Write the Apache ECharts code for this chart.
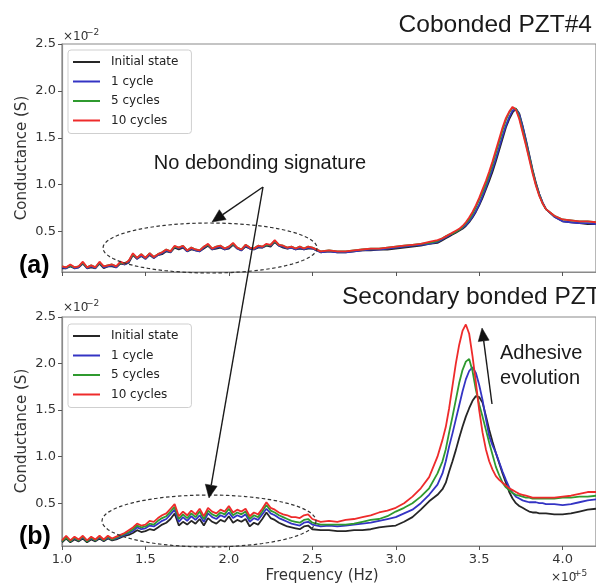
<!DOCTYPE html>
<html>
<head>
<meta charset="utf-8">
<script src="https://cdn.jsdelivr.net/npm/echarts@6/dist/echarts.min.js"></script>
<style>
  html, body { margin: 0; padding: 0; background: #fff; }
  #chart { width: 596px; height: 583px; }
</style>
</head>
<body>
<div id="chart"></div>
<script>
// Frequency samples, in units of 1e5 Hz
const freq = [
  1.000, 1.025, 1.050, 1.075, 1.100, 1.125, 1.150, 1.175, 1.200, 1.225,
  1.250, 1.275, 1.300, 1.325, 1.350, 1.375, 1.400, 1.425, 1.450, 1.475,
  1.500, 1.525, 1.550, 1.575, 1.600, 1.625, 1.650, 1.675, 1.700, 1.725,
  1.750, 1.775, 1.800, 1.825, 1.850, 1.875, 1.900, 1.925, 1.950, 1.975,
  2.000, 2.025, 2.050, 2.075, 2.100, 2.125, 2.150, 2.175, 2.200, 2.225,
  2.250, 2.275, 2.300, 2.325, 2.350, 2.375, 2.400, 2.425, 2.450, 2.475,
  2.500,
  2.55, 2.60, 2.65, 2.70, 2.75, 2.80, 2.85, 2.90, 2.95, 3.00, 3.05, 3.10, 3.15, 3.20, 3.25,
  3.28, 3.30, 3.32, 3.34, 3.36, 3.38, 3.40, 3.42, 3.44, 3.46, 3.48, 3.50, 3.52, 3.54, 3.56, 3.58,
  3.60, 3.62, 3.64, 3.66, 3.68, 3.70, 3.72, 3.74, 3.76, 3.78, 3.80, 3.82, 3.84, 3.86, 3.88, 3.90,
  3.95, 4.00, 4.05, 4.10, 4.15, 4.20
];

const seriesNames = ['Initial state', '1 cycle', '5 cycles', '10 cycles'];
const lineColors = ['#262626', '#3434c4', '#2f9a2f', '#ee2b2b'];

// (a) Cobonded PZT#4 conductance, in units of 1e-2 S
const coInitial = [
  0.11, 0.11, 0.13, 0.11, 0.12, 0.16, 0.11, 0.12, 0.11, 0.16,
  0.11, 0.13, 0.13, 0.12, 0.16, 0.15, 0.17, 0.25, 0.21, 0.24,
  0.21, 0.25, 0.22, 0.25, 0.26, 0.29, 0.28, 0.33, 0.31, 0.33,
  0.29, 0.31, 0.30, 0.29, 0.32, 0.35, 0.31, 0.32, 0.33, 0.31,
  0.32, 0.36, 0.32, 0.30, 0.34, 0.32, 0.31, 0.33, 0.33, 0.35,
  0.34, 0.39, 0.35, 0.33, 0.32, 0.33, 0.31, 0.32, 0.31, 0.32,
  0.32,
  0.28, 0.29, 0.28, 0.28, 0.29, 0.30, 0.30, 0.31, 0.31, 0.32, 0.33, 0.34, 0.35, 0.37, 0.38,
  0.41, 0.43, 0.45, 0.47, 0.49, 0.51, 0.53, 0.56, 0.60, 0.65, 0.71, 0.78, 0.86, 0.95, 1.04, 1.14,
  1.25, 1.37, 1.49, 1.61, 1.70, 1.77, 1.81, 1.76, 1.63, 1.48, 1.32, 1.16, 1.02, 0.90, 0.81, 0.74,
  0.66, 0.61, 0.60, 0.59, 0.58, 0.58
];
const co1Cycle = [
  0.12, 0.11, 0.14, 0.11, 0.12, 0.17, 0.11, 0.13, 0.11, 0.17,
  0.12, 0.13, 0.14, 0.12, 0.17, 0.15, 0.18, 0.26, 0.21, 0.25,
  0.21, 0.26, 0.22, 0.25, 0.27, 0.30, 0.28, 0.34, 0.32, 0.34,
  0.29, 0.32, 0.30, 0.29, 0.33, 0.36, 0.31, 0.33, 0.34, 0.31,
  0.33, 0.37, 0.32, 0.30, 0.35, 0.32, 0.31, 0.34, 0.33, 0.36,
  0.35, 0.40, 0.35, 0.34, 0.32, 0.33, 0.31, 0.33, 0.31, 0.33,
  0.32,
  0.28, 0.29, 0.28, 0.28, 0.29, 0.30, 0.31, 0.31, 0.32, 0.33, 0.34, 0.35, 0.36, 0.37, 0.39,
  0.42, 0.44, 0.46, 0.48, 0.50, 0.52, 0.54, 0.57, 0.61, 0.66, 0.72, 0.79, 0.88, 0.97, 1.07, 1.17,
  1.28, 1.40, 1.52, 1.63, 1.72, 1.79, 1.81, 1.75, 1.62, 1.47, 1.31, 1.15, 1.01, 0.90, 0.81, 0.74,
  0.66, 0.61, 0.60, 0.59, 0.59, 0.58
];
const co5Cycles = [
  0.13, 0.12, 0.14, 0.12, 0.13, 0.17, 0.12, 0.14, 0.12, 0.17,
  0.13, 0.14, 0.15, 0.13, 0.17, 0.16, 0.19, 0.26, 0.22, 0.26,
  0.22, 0.27, 0.23, 0.26, 0.28, 0.31, 0.29, 0.34, 0.33, 0.35,
  0.30, 0.33, 0.31, 0.30, 0.34, 0.36, 0.32, 0.34, 0.35, 0.32,
  0.34, 0.37, 0.33, 0.31, 0.36, 0.33, 0.32, 0.35, 0.34, 0.36,
  0.36, 0.40, 0.36, 0.35, 0.33, 0.34, 0.32, 0.34, 0.32, 0.34,
  0.33,
  0.29, 0.30, 0.29, 0.29, 0.30, 0.31, 0.32, 0.32, 0.33, 0.34, 0.35, 0.36, 0.37, 0.38, 0.40,
  0.43, 0.45, 0.47, 0.48, 0.50, 0.52, 0.55, 0.59, 0.63, 0.69, 0.76, 0.84, 0.92, 1.01, 1.11, 1.22,
  1.34, 1.46, 1.58, 1.69, 1.77, 1.82, 1.81, 1.72, 1.58, 1.44, 1.29, 1.14, 1.00, 0.89, 0.80, 0.74,
  0.67, 0.63, 0.62, 0.61, 0.61, 0.60
];
const co10Cycles = [
  0.13, 0.12, 0.15, 0.12, 0.13, 0.18, 0.12, 0.14, 0.12, 0.18,
  0.13, 0.14, 0.15, 0.13, 0.18, 0.16, 0.19, 0.27, 0.22, 0.26,
  0.22, 0.27, 0.23, 0.26, 0.28, 0.31, 0.29, 0.35, 0.33, 0.35,
  0.30, 0.33, 0.31, 0.30, 0.34, 0.37, 0.32, 0.34, 0.35, 0.32,
  0.34, 0.38, 0.33, 0.31, 0.36, 0.33, 0.32, 0.35, 0.34, 0.37,
  0.36, 0.41, 0.36, 0.35, 0.33, 0.34, 0.32, 0.34, 0.32, 0.34,
  0.33,
  0.29, 0.30, 0.29, 0.29, 0.30, 0.31, 0.32, 0.32, 0.33, 0.34, 0.35, 0.36, 0.37, 0.39, 0.41,
  0.43, 0.45, 0.47, 0.49, 0.51, 0.53, 0.56, 0.60, 0.65, 0.71, 0.78, 0.86, 0.95, 1.04, 1.14, 1.25,
  1.37, 1.49, 1.61, 1.71, 1.78, 1.83, 1.80, 1.70, 1.56, 1.42, 1.27, 1.12, 0.99, 0.88, 0.80, 0.74,
  0.67, 0.63, 0.62, 0.61, 0.61, 0.60
];

// (b) Secondary bonded PZT conductance, in units of 1e-2 S
const secInitial = [
  0.08, 0.12, 0.08, 0.11, 0.09, 0.12, 0.08, 0.11, 0.09, 0.12,
  0.09, 0.12, 0.10, 0.11, 0.13, 0.15, 0.16, 0.18, 0.21, 0.19,
  0.20, 0.22, 0.21, 0.24, 0.27, 0.29, 0.33, 0.39, 0.26, 0.30,
  0.27, 0.31, 0.28, 0.33, 0.26, 0.34, 0.30, 0.28, 0.32, 0.30,
  0.36, 0.29, 0.32, 0.30, 0.33, 0.25, 0.29, 0.27, 0.33, 0.40,
  0.34, 0.32, 0.29, 0.27, 0.25, 0.24, 0.23, 0.22, 0.25, 0.26,
  0.22,
  0.21, 0.21, 0.20, 0.20, 0.21, 0.21, 0.22, 0.24, 0.25, 0.26, 0.30, 0.35, 0.43, 0.52, 0.59,
  0.65, 0.72, 0.84, 0.95, 1.07, 1.20, 1.32, 1.43, 1.52, 1.60, 1.65, 1.64, 1.58, 1.44, 1.29, 1.16,
  1.04, 0.93, 0.82, 0.72, 0.62, 0.55, 0.50, 0.47, 0.45, 0.43, 0.41, 0.40, 0.40, 0.39, 0.39, 0.39,
  0.38, 0.38, 0.39, 0.41, 0.43, 0.44
];
const sec1Cycle = [
  0.09, 0.13, 0.09, 0.12, 0.10, 0.13, 0.09, 0.12, 0.10, 0.13,
  0.10, 0.13, 0.11, 0.12, 0.14, 0.16, 0.18, 0.20, 0.24, 0.22,
  0.23, 0.26, 0.25, 0.28, 0.31, 0.33, 0.38, 0.43, 0.30, 0.35,
  0.31, 0.36, 0.32, 0.37, 0.30, 0.39, 0.35, 0.33, 0.37, 0.35,
  0.40, 0.34, 0.37, 0.35, 0.38, 0.30, 0.34, 0.32, 0.38, 0.44,
  0.39, 0.37, 0.34, 0.32, 0.30, 0.28, 0.27, 0.26, 0.29, 0.30,
  0.27,
  0.25, 0.26, 0.25, 0.26, 0.27, 0.28, 0.29, 0.31, 0.33, 0.35, 0.39, 0.43, 0.50, 0.59, 0.70,
  0.82, 0.95, 1.11, 1.25, 1.40, 1.55, 1.70, 1.83, 1.92, 1.96, 1.90, 1.77, 1.61, 1.41, 1.22, 1.12,
  1.04, 0.94, 0.84, 0.75, 0.67, 0.61, 0.57, 0.55, 0.53, 0.52, 0.51, 0.51, 0.51, 0.50, 0.50, 0.49,
  0.49, 0.48, 0.49, 0.51, 0.53, 0.54
];
const sec5Cycles = [
  0.09, 0.13, 0.09, 0.13, 0.10, 0.14, 0.09, 0.13, 0.10, 0.14,
  0.10, 0.14, 0.11, 0.13, 0.15, 0.17, 0.19, 0.22, 0.26, 0.24,
  0.25, 0.28, 0.27, 0.31, 0.34, 0.36, 0.41, 0.46, 0.33, 0.38,
  0.34, 0.39, 0.35, 0.41, 0.33, 0.42, 0.38, 0.36, 0.40, 0.38,
  0.44, 0.37, 0.40, 0.38, 0.41, 0.33, 0.37, 0.35, 0.41, 0.48,
  0.42, 0.40, 0.37, 0.35, 0.33, 0.31, 0.30, 0.29, 0.32, 0.33,
  0.29,
  0.27, 0.27, 0.27, 0.27, 0.28, 0.30, 0.32, 0.33, 0.36, 0.41, 0.45, 0.50, 0.57, 0.66, 0.82,
  0.95, 1.08, 1.26, 1.43, 1.61, 1.79, 1.93, 2.02, 2.05, 1.92, 1.72, 1.56, 1.43, 1.29, 1.15, 1.02,
  0.89, 0.80, 0.72, 0.67, 0.64, 0.61, 0.59, 0.58, 0.57, 0.56, 0.56, 0.55, 0.55, 0.55, 0.55, 0.55,
  0.55, 0.56, 0.56, 0.57, 0.57, 0.58
];
const sec10Cycles = [
  0.10, 0.15, 0.10, 0.14, 0.11, 0.15, 0.10, 0.14, 0.11, 0.15,
  0.11, 0.15, 0.12, 0.14, 0.16, 0.18, 0.21, 0.24, 0.28, 0.26,
  0.27, 0.31, 0.30, 0.34, 0.37, 0.39, 0.44, 0.49, 0.36, 0.41,
  0.37, 0.42, 0.38, 0.44, 0.36, 0.45, 0.41, 0.39, 0.43, 0.41,
  0.47, 0.40, 0.43, 0.41, 0.44, 0.36, 0.40, 0.38, 0.44, 0.51,
  0.45, 0.43, 0.40, 0.38, 0.37, 0.35, 0.35, 0.34, 0.37, 0.38,
  0.33,
  0.30, 0.31, 0.30, 0.32, 0.33, 0.35, 0.37, 0.40, 0.42, 0.45, 0.50, 0.57, 0.66, 0.78, 1.00,
  1.18, 1.32, 1.52, 1.76, 2.00, 2.20, 2.35, 2.42, 2.32, 2.08, 1.80, 1.50, 1.26, 1.08, 0.95, 0.86,
  0.79, 0.75, 0.72, 0.69, 0.66, 0.64, 0.62, 0.60, 0.59, 0.58, 0.57, 0.56, 0.56, 0.56, 0.56, 0.56,
  0.56, 0.57, 0.58, 0.60, 0.62, 0.62
];

const xTickValues = [1.0, 1.5, 2.0, 2.5, 3.0, 3.5, 4.0];
const yTickValues = [0.5, 1.0, 1.5, 2.0, 2.5];

const panelA = [coInitial, co1Cycle, co5Cycles, co10Cycles];
const panelB = [secInitial, sec1Cycle, sec5Cycles, sec10Cycles];

const mplFont = 'DejaVu Sans';
const annFont = 'Liberation Sans';

function toPairs(values) {
  return freq.map((f, i) => [f, values[i]]);
}

function makeSeries(panel, axisIndex) {
  return panel.map((values, k) => ({
    name: seriesNames[k],
    type: 'line',
    xAxisIndex: axisIndex,
    yAxisIndex: axisIndex,
    data: toPairs(values),
    showSymbol: false,
    symbol: 'none',
    color: lineColors[k],
    lineStyle: { width: 1.8, color: lineColors[k] },
    z: 2 + k,
    silent: true
  }));
}

function xAxisCfg(gridIndex, showLabels) {
  return {
    type: 'value', gridIndex: gridIndex, min: 1.0, max: 4.2,
    splitLine: { show: false },
    axisLine: { show: true, lineStyle: { color: '#8a8a8a', width: 1.2 } },
    axisTick: { show: true, length: 4, customValues: xTickValues, lineStyle: { color: '#555' } },
    axisLabel: {
      show: showLabels, customValues: xTickValues, margin: 7,
      fontFamily: mplFont, fontSize: 13, color: '#333',
      formatter: v => v.toFixed(1)
    }
  };
}

function yAxisCfg(gridIndex, minVal) {
  return {
    type: 'value', gridIndex: gridIndex, min: minVal, max: 2.5,
    splitLine: { show: false },
    axisLine: { show: true, lineStyle: { color: '#8a8a8a', width: 1.2 } },
    axisTick: { show: true, length: 4, customValues: yTickValues, lineStyle: { color: '#555' } },
    axisLabel: {
      customValues: yTickValues, margin: 6,
      fontFamily: mplFont, fontSize: 13, color: '#333',
      formatter: v => v.toFixed(1)
    }
  };
}

function legendCfg(top) {
  return {
    orient: 'vertical', left: 68, top: top,
    data: seriesNames, icon: 'rect', itemWidth: 27, itemHeight: 2, itemGap: 5.5,
    padding: [5, 13, 6, 5],
    borderColor: '#cfcfcf', borderWidth: 1, borderRadius: 3,
    backgroundColor: 'rgba(255,255,255,0.85)',
    selectedMode: false,
    textStyle: { fontFamily: mplFont, fontSize: 12, color: '#222', lineHeight: 14, padding: [0, 0, 0, 6] }
  };
}

// Closed dashed outline around a frequency band
function ellipsePoints(cx, cy, rx, ry) {
  const pts = [];
  for (let i = 0; i < 72; i++) {
    const t = i / 72 * Math.PI * 2;
    pts.push([cx + rx * Math.cos(t), cy + ry * Math.sin(t)]);
  }
  return pts;
}

function arrow(x1, y1, x2, y2, len, half) {
  const a = Math.atan2(y2 - y1, x2 - x1);
  const bx = x2 - len * Math.cos(a), by = y2 - len * Math.sin(a);
  return [
    { type: 'line', silent: true, z: 20,
      shape: { x1: x1, y1: y1, x2: bx, y2: by },
      style: { stroke: '#1a1a1a', lineWidth: 1.4 } },
    { type: 'polygon', silent: true, z: 20,
      shape: { points: [[x2, y2],
        [bx + half * Math.sin(a), by - half * Math.cos(a)],
        [bx - half * Math.sin(a), by + half * Math.cos(a)]] },
      style: { fill: '#111', stroke: '#111', lineWidth: 0.5 } }
  ];
}

function text(str, x, y, font, opts) {
  return {
    type: 'text', silent: true, z: 20,
    style: Object.assign({ text: str, x: x, y: y, font: font, fill: '#1a1a1a',
      align: 'left', verticalAlign: 'middle' }, opts || {})
  };
}

// Vertical axis title, rotated to read bottom-to-top
function yTitle(cy) {
  return {
    type: 'text', silent: true, z: 20, x: 22, y: cy, rotation: Math.PI / 2,
    style: { text: 'Conductance (S)', font: '15px "' + mplFont + '"', fill: '#333',
      align: 'center', verticalAlign: 'middle' }
  };
}

const chart = echarts.init(document.getElementById('chart'), null, { renderer: 'canvas' });

const graphics = [
  text('Cobonded PZT#4', 592, 25, '24.5px "' + annFont + '"', { align: 'right' }),
  text('Secondary bonded PZT', 342, 297, '24.5px "' + annFont + '"'),
  text('(a)', 19, 266, 'bold 25px "' + annFont + '"', { fill: '#000' }),
  text('(b)', 19, 537, 'bold 25px "' + annFont + '"', { fill: '#000' }),
  text('×10', 63, 37, '12px "' + mplFont + '"', { fill: '#333' }),
  text('−2', 86, 33, '9px "' + mplFont + '"', { fill: '#333' }),
  text('×10', 63, 308, '12px "' + mplFont + '"', { fill: '#333' }),
  text('−2', 86, 304, '9px "' + mplFont + '"', { fill: '#333' }),
  text('×10', 551, 578, '12px "' + mplFont + '"', { fill: '#333' }),
  text('+5', 574, 574, '9px "' + mplFont + '"', { fill: '#333' }),
  text('Frequency (Hz)', 322, 576, '15px "' + mplFont + '"', { align: 'center', fill: '#333' }),
  yTitle(158),
  yTitle(431),
  text('No debonding signature', 260, 163, '20px "' + annFont + '"', { align: 'center' }),
  text('Adhesive', 500, 353, '20px "' + annFont + '"'),
  text('evolution', 500, 378, '20px "' + annFont + '"'),
  { type: 'polygon', silent: true, z: 15,
    shape: { points: ellipsePoints(210, 248, 107, 25) },
    style: { fill: 'none', stroke: '#333', lineWidth: 1.2, lineDash: [3.5, 2.5] } },
  { type: 'polygon', silent: true, z: 15,
    shape: { points: ellipsePoints(209, 521, 107, 26) },
    style: { fill: 'none', stroke: '#333', lineWidth: 1.2, lineDash: [3.5, 2.5] } }
].concat(
  arrow(263, 187, 212, 222, 13, 6),
  arrow(263, 187, 209, 498, 13, 6),
  arrow(492, 404, 482, 328, 13, 5.5)
);

chart.setOption({
  animation: false,
  backgroundColor: '#ffffff',
  grid: [
    { left: 62, top: 44, right: -1, height: 228, show: true, borderColor: '#8a8a8a', borderWidth: 1.2, backgroundColor: 'transparent' },
    { left: 62, top: 317, right: -1, height: 229, show: true, borderColor: '#8a8a8a', borderWidth: 1.2, backgroundColor: 'transparent' }
  ],
  xAxis: [xAxisCfg(0, false), xAxisCfg(1, true)],
  yAxis: [yAxisCfg(0, 0.07), yAxisCfg(1, 0.04)],
  legend: [legendCfg(50), legendCfg(324)],
  series: makeSeries(panelA, 0).concat(makeSeries(panelB, 1)),
  graphic: graphics
});
</script>
</body>
</html>
